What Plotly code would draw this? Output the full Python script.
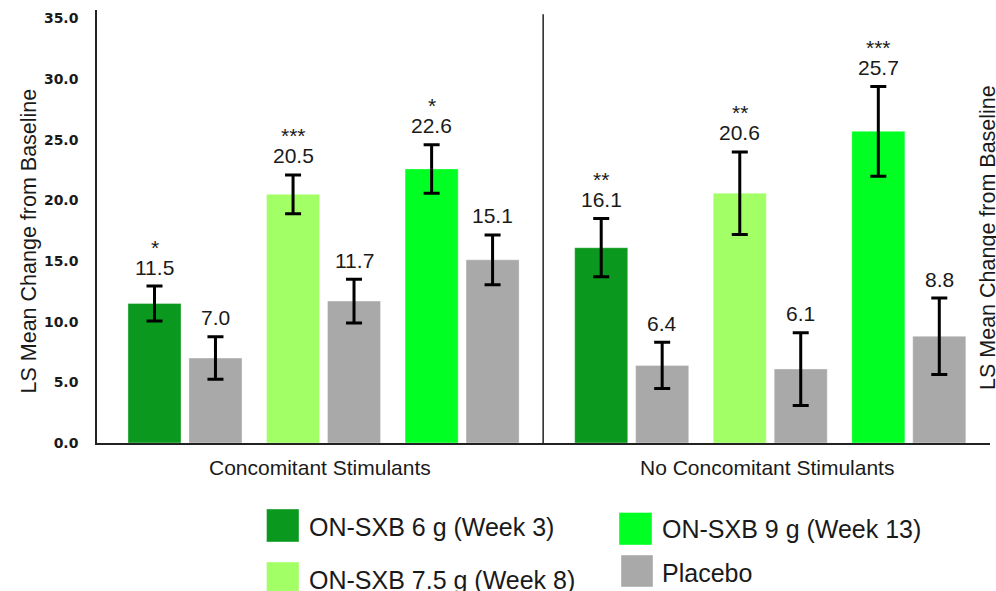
import plotly.graph_objects as go

# ---- data ----
panels = ["Concomitant Stimulants", "No Concomitant Stimulants"]
doses = ["ON-SXB 6 g (Week 3)", "ON-SXB 7.5 g (Week 8)", "ON-SXB 9 g (Week 13)"]
placebo_name = "Placebo"

active_cs = [11.5, 20.5, 22.6]
active_cs_err = [1.44, 1.6, 2.0]
placebo_cs = [7.0, 11.7, 15.1]
placebo_cs_err = [1.75, 1.8, 2.05]

active_ncs = [16.1, 20.6, 25.7]
active_ncs_err = [2.4, 3.4, 3.7]
placebo_ncs = [6.4, 6.1, 8.8]
placebo_ncs_err = [1.9, 3.0, 3.15]

stars_cs = ["*", "***", "*"]
stars_ncs = ["**", "**", "***"]

y_ticks = [0, 5, 10, 15, 20, 25, 30, 35]

# ---- style ----
dose_colors = ["#0A991E", "#A2FF66", "#00FF22"]
placebo_color = "#A9A9A9"
FONT = "Liberation Sans, Arial, sans-serif"
INK = "#1a1a1a"

W, H = 996, 591
L, R, T, B = 97, 6, 10, 148
PW, PH = W - L - R, H - T - B

# slot layout: pair i of panel g sits at g*PANEL_STEP + i; dose left, placebo right
PANEL_STEP = 3.224
OFFSET = 0.22
BAR_W = 0.383
DIVIDER = 2.585
X_RANGE = [-0.635, 5.81]
Y_RANGE = [0, 35.7]


def px_x(px):
    return (px - L) / PW


def px_y(py):
    return (H - B - py) / PH


centers = [g * PANEL_STEP + i for g in range(2) for i in range(3)]
active_vals = active_cs + active_ncs
active_errs = active_cs_err + active_ncs_err
placebo_vals = placebo_cs + placebo_ncs
placebo_errs = placebo_cs_err + placebo_ncs_err
stars = stars_cs + stars_ncs

fig = go.Figure()

err_style = dict(type="data", symmetric=True, color="black", thickness=3, width=8)
edge = dict(color="rgba(255,255,255,0.35)", width=1)

for d, name in enumerate(doses):
    idx = [d, d + 3]
    fig.add_trace(go.Bar(
        name=name,
        x=[centers[k] - OFFSET for k in idx],
        y=[active_vals[k] for k in idx],
        width=BAR_W,
        marker=dict(color=dose_colors[d], line=edge),
        error_y=dict(array=[active_errs[k] for k in idx], **err_style),
        showlegend=False,
    ))

fig.add_trace(go.Bar(
    name=placebo_name,
    x=[c + OFFSET for c in centers],
    y=placebo_vals,
    width=BAR_W,
    marker=dict(color=placebo_color, line=edge),
    error_y=dict(array=placebo_errs, **err_style),
    showlegend=False,
))

annotations = []

# value labels and significance stars above the error bars
for k, c in enumerate(centers):
    top = active_vals[k] + active_errs[k]
    annotations.append(dict(x=c - OFFSET, y=top, text=f"{active_vals[k]:.1f}",
                            showarrow=False, yanchor="middle", yshift=19,
                            font=dict(family=FONT, size=21, color=INK)))
    annotations.append(dict(x=c - OFFSET, y=top, text=stars[k],
                            showarrow=False, yanchor="middle", yshift=39,
                            font=dict(family=FONT, size=21, color=INK)))
    ptop = placebo_vals[k] + placebo_errs[k]
    annotations.append(dict(x=c + OFFSET, y=ptop, text=f"{placebo_vals[k]:.1f}",
                            showarrow=False, yanchor="middle", yshift=19,
                            font=dict(family=FONT, size=21, color=INK)))

# panel (category) labels under the baseline
panel_mid = [(X_RANGE[0] + DIVIDER) / 2, (DIVIDER + X_RANGE[1]) / 2]
for g, label in enumerate(panels):
    annotations.append(dict(x=panel_mid[g], xref="x", y=px_y(467), yref="paper",
                            text=label, showarrow=False, yanchor="middle",
                            font=dict(family=FONT, size=21, color=INK)))

# axis titles (left and right)
y_title = "LS Mean Change from Baseline"
annotations.append(dict(x=px_x(28), xref="paper", y=px_y(241.5), yref="paper",
                        text=y_title, textangle=-90, showarrow=False,
                        xanchor="center", yanchor="middle",
                        font=dict(family=FONT, size=21.5, color=INK)))
annotations.append(dict(x=px_x(988), xref="paper", y=px_y(238), yref="paper",
                        text=y_title, textangle=-90, showarrow=False,
                        xanchor="center", yanchor="middle",
                        font=dict(family=FONT, size=21.5, color=INK)))

# custom legend: coloured squares with labels, two columns
legend_items = [
    (doses[0], dose_colors[0], (266.5, 509, 299, 542), (307, 526.5)),
    (doses[1], dose_colors[1], (266.5, 562, 299, 595), (307, 580)),
    (doses[2], dose_colors[2], (619, 512.5, 652, 545), (660, 529)),
    (placebo_name, placebo_color, (621, 555, 653, 587), (660, 572.5)),
]
shapes = []
for name, color, (x0, y0, x1, y1), (tx, ty) in legend_items:
    shapes.append(dict(type="rect", xref="paper", yref="paper",
                       x0=px_x(x0), x1=px_x(x1), y0=px_y(y1), y1=px_y(y0),
                       fillcolor=color, line=dict(color="rgba(255,255,255,0.4)", width=1)))
    annotations.append(dict(x=px_x(tx), xref="paper", y=px_y(ty), yref="paper",
                            text=name, showarrow=False, xanchor="left", yanchor="middle",
                            font=dict(family=FONT, size=25, color=INK)))

# divider between the two panels
shapes.append(dict(type="line", xref="x", yref="paper", x0=DIVIDER, x1=DIVIDER,
                   y0=0, y1=0.99, line=dict(color="#222", width=1.5)))

fig.update_layout(
    width=W, height=H,
    margin=dict(l=L, r=R, t=T, b=B, pad=0),
    paper_bgcolor="white", plot_bgcolor="white",
    barmode="overlay",
    font=dict(family=FONT, color=INK),
    annotations=annotations,
    shapes=shapes,
    showlegend=False,
)
fig.update_xaxes(range=X_RANGE, showgrid=False, zeroline=False, showticklabels=False,
                 ticks="", showline=True, linecolor="#222", linewidth=1.5)
fig.update_yaxes(range=Y_RANGE, tickvals=y_ticks, tickformat=".1f",
                 showgrid=False, zeroline=False, ticks="",
                 showline=True, linecolor="#222", linewidth=1.5,
                 ticklabelstandoff=14,
                 tickfont=dict(family="DejaVu Sans", size=14, color=INK, weight="bold"))

fig.write_html("out.html")
